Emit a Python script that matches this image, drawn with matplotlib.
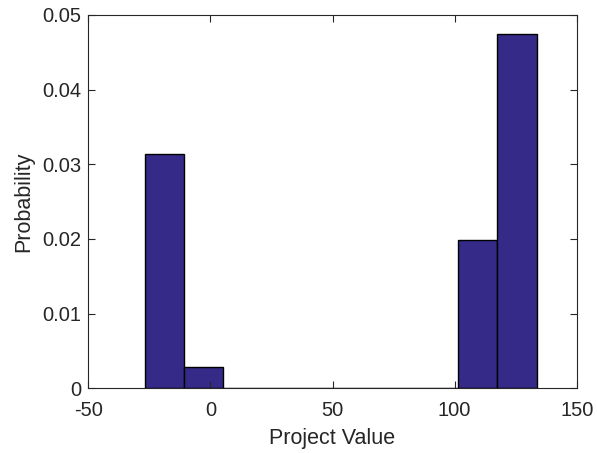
import matplotlib.pyplot as plt
import numpy as np

plt.rcParams['font.family'] = ['Liberation Sans', 'DejaVu Sans']
plt.rcParams['axes.unicode_minus'] = False

# histogram bins (left edge of first bin, bin width) and bar heights
first_edge = -26.9
bin_width = 16.05
probs = [0.0314, 0.0029, 0, 0, 0, 0, 0, 0, 0.0198, 0.0474]
xticks = [-50, 0, 50, 100, 150]
yticks = [0, 0.01, 0.02, 0.03, 0.04, 0.05]

edges = first_edge + bin_width * np.arange(len(probs))

fig = plt.figure(figsize=(5.97, 4.53), dpi=100)
ax = fig.add_axes([0.148, 0.143, 0.818, 0.824])

ax.bar(edges, probs, width=bin_width, align='edge',
       color='#352a87', edgecolor='black', linewidth=1.0)

ax.set_xlim(-50, 150)
ax.set_ylim(0, 0.05)
ax.set_xticks(xticks)
ax.set_yticks(yticks)
ax.set_yticklabels(['0', '0.01', '0.02', '0.03', '0.04', '0.05'])

ax.tick_params(direction='in', top=True, right=True, length=5,
               labelsize=14.5, colors='#262626', width=0.8)
ax.tick_params(axis='x', pad=9)
ax.tick_params(axis='y', pad=5)
for s in ax.spines.values():
    s.set_color('#262626')
    s.set_linewidth(0.8)

ax.set_xlabel('Project Value', fontsize=15.5, color='#262626', labelpad=6)
ax.set_ylabel('Probability', fontsize=15.5, color='#262626', labelpad=6)

fig.savefig('out.png', dpi=100)
